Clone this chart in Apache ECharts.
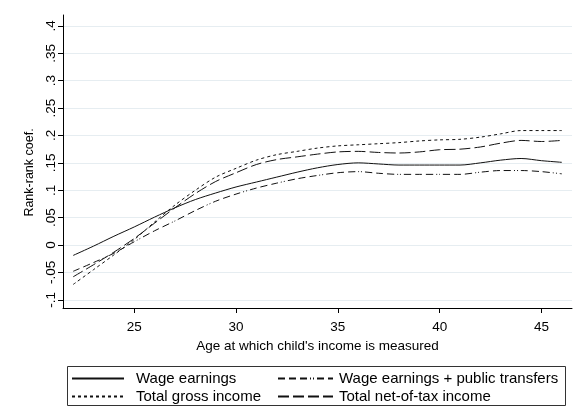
<!DOCTYPE html>
<html>
<head>
<meta charset="utf-8">
<script src="https://cdn.jsdelivr.net/npm/echarts@6/dist/echarts.min.js"></script>
<style>
  html, body { margin: 0; padding: 0; background: #fff; }
  #chart { width: 578px; height: 412px; }
</style>
</head>
<body>
<div id="chart"></div>
<script>
// ages at which child's income is measured
var ages = [22, 23, 24, 25, 26, 27, 28, 29, 30, 31, 32, 33, 34, 35, 36, 37, 38, 39, 40, 41, 42, 43, 44, 45, 46];
var wageEarnings = [-0.019, -0.002, 0.016, 0.033, 0.051, 0.068, 0.083, 0.095, 0.106, 0.115, 0.124, 0.133, 0.141, 0.147, 0.150, 0.148, 0.146, 0.146, 0.146, 0.146, 0.150, 0.155, 0.158, 0.154, 0.151];
var wagePlusTransfers = [-0.048, -0.032, -0.015, 0.006, 0.026, 0.044, 0.063, 0.080, 0.093, 0.104, 0.113, 0.121, 0.127, 0.132, 0.134, 0.131, 0.129, 0.129, 0.129, 0.129, 0.133, 0.136, 0.136, 0.134, 0.130];
var totalGross = [-0.072, -0.045, -0.018, 0.010, 0.042, 0.073, 0.100, 0.124, 0.140, 0.155, 0.165, 0.171, 0.177, 0.181, 0.183, 0.185, 0.187, 0.190, 0.192, 0.193, 0.197, 0.203, 0.209, 0.209, 0.209];
var totalNet = [-0.058, -0.036, -0.013, 0.012, 0.040, 0.068, 0.094, 0.116, 0.132, 0.147, 0.156, 0.161, 0.166, 0.170, 0.171, 0.169, 0.168, 0.170, 0.174, 0.175, 0.179, 0.186, 0.191, 0.189, 0.191];

var xTicks = [25, 30, 35, 40, 45];
var yTicks = [-0.1, -0.05, 0, 0.05, 0.1, 0.15, 0.2, 0.25, 0.3, 0.35, 0.4];

var seriesNames = ['Wage earnings', 'Wage earnings + public transfers', 'Total gross income', 'Total net-of-tax income'];

var zip = function (ys) {
    return ages.map(function (a, i) { return [a, ys[i]]; });
};

// stata style: .35 instead of 0.35
var stataFmt = function (v) {
    var s = String(Math.round(v * 100) / 100);
    return s.replace('0.', '.');
};

var font = 'Liberation Sans, Arial, sans-serif';
var fs = 13.5;
var ink = '#111';

var chart = echarts.init(document.getElementById('chart'));

var mkSeries = function (name, ys, dash) {
    return {
        name: name,
        type: 'line',
        data: zip(ys),
        symbol: 'none',
        smooth: 0.3,
        animation: false,
        lineStyle: { color: ink, width: 1, type: dash },
        itemStyle: { color: ink }
    };
};

var legendBase = {
    orient: 'vertical',
    itemHeight: 12,
    itemGap: 3,
    padding: 0,
    itemStyle: { opacity: 0 },
    selectedMode: false
};

var option = {
    backgroundColor: '#fff',
    animation: false,
    grid: { left: 63, right: 6, top: 15, bottom: 104 },
    xAxis: {
        type: 'value',
        min: 21.5,
        max: 46.5,
        name: "Age at which child's income is measured",
        nameLocation: 'middle',
        nameGap: 27,
        nameTextStyle: { fontFamily: font, fontSize: fs, color: '#000' },
        axisLine: { onZero: false, lineStyle: { color: '#000', width: 1 } },
        axisTick: { customValues: xTicks, length: 5, lineStyle: { color: '#000' } },
        axisLabel: { customValues: xTicks, margin: 12, fontFamily: font, fontSize: fs, color: '#000' },
        splitLine: { show: false }
    },
    yAxis: {
        type: 'value',
        min: -0.115,
        max: 0.42,
        name: 'Rank-rank coef.',
        nameLocation: 'middle',
        nameGap: 27,
        nameTextStyle: { fontFamily: font, fontSize: 12.5, color: '#000', padding: [0, 22, 0, 0] },
        axisLine: { show: true, onZero: false, lineStyle: { color: '#000', width: 1 } },
        axisTick: { show: true, customValues: yTicks, length: 5, lineStyle: { color: '#000' } },
        axisLabel: {
            customValues: yTicks,
            rotate: 90,
            margin: 5,
            fontFamily: font,
            fontSize: fs,
            color: '#000',
            formatter: stataFmt
        },
        splitLine: { show: true, lineStyle: { color: '#e6edf1', width: 1 } }
    },
    legend: [
        Object.assign({}, legendBase, {
            left: 71, top: 371, itemWidth: 52,
            textStyle: { fontFamily: font, fontSize: 15, color: '#000', padding: [0, 0, 0, 7] },
            data: [seriesNames[0], seriesNames[2]]
        }),
        Object.assign({}, legendBase, {
            left: 277, top: 371, itemWidth: 55,
            textStyle: { fontFamily: font, fontSize: 15, color: '#000', padding: [0, 0, 0, 1] },
            data: [seriesNames[1], seriesNames[3]]
        })
    ],
    graphic: [{
        type: 'rect',
        shape: { x: 67.5, y: 366.5, width: 498, height: 39 },
        style: { fill: 'none', stroke: '#333', lineWidth: 1 },
        silent: true
    }],
    series: [
        mkSeries(seriesNames[0], wageEarnings, 'solid'),
        mkSeries(seriesNames[1], wagePlusTransfers, [7, 4, 7, 4, 7, 3, 1, 2, 1, 3]),
        mkSeries(seriesNames[2], totalGross, [3, 3]),
        mkSeries(seriesNames[3], totalNet, [11, 4])
    ]
};

chart.setOption(option);
</script>
</body>
</html>
